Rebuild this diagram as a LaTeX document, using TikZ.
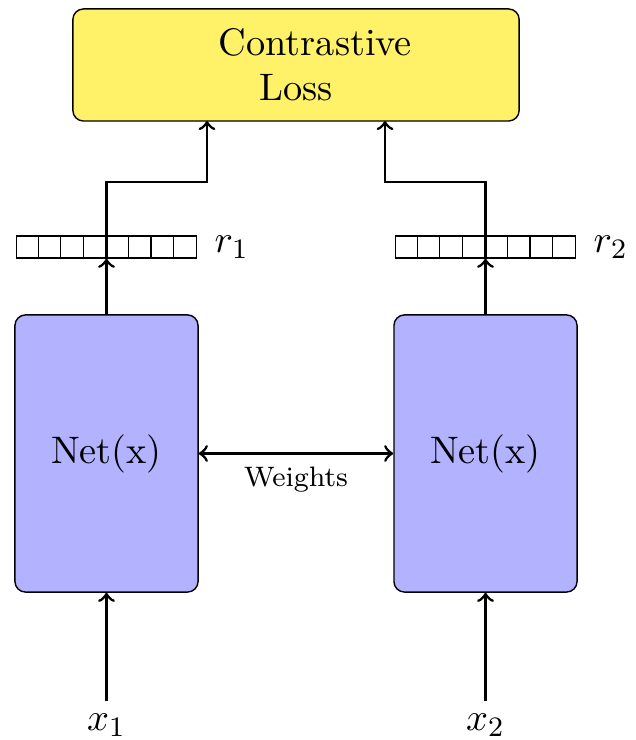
\documentclass[tikz,border=0pt]{standalone}
\usepackage{amsmath}
\usepackage{amssymb}
\usetikzlibrary{arrows,positioning}
\definecolor{lossyellow}{RGB}{255,241,104}
\definecolor{netblue}{RGB}{178,178,255}

\begin{document}
\begin{tikzpicture}[x=0.01cm,y=0.01cm,
		txt/.style={font=\fontsize{10.9}{12.8}\selectfont},
		box/.style={draw,rounded corners=3pt,inner sep=0pt},
		vecbox/.style={draw,thin,minimum width=1.8cm,minimum height=0.22cm,inner sep=0pt},
		conn/.style={->,thick}]
	\useasboundingbox (0,0) rectangle (635,740);
		%%  Loss  %%%%%%%%
		\node[box,fill=lossyellow,minimum width=4.46cm,minimum height=1.12cm,txt,align=center] (loss) at (296,675) {\hspace*{11pt}Contrastive\\Loss};
		\coordinate (inL) at (207,619);
		\coordinate (inR) at (385,619);
		\coordinate (bendL) at (106.5,558);
		\coordinate (bendR) at (485.5,558);
		%%  Nets  %%%%%%%%
		\node[box,fill=netblue,minimum width=1.83cm,minimum height=2.77cm,txt] (netL) at (106.5,286.5) {Net(x)};
		\node[box,fill=netblue,minimum width=1.83cm,minimum height=2.77cm,txt] (netR) at (485.5,286.5) {Net(x)};
		%%  Vectors  %%%%%%%%
		\node[vecbox] (vecL) at (106.5,493) {};
		\node[vecbox] (vecR) at (485.5,493) {};
		\foreach \v in {vecL,vecR}
			\foreach \i in {1,...,7}
				\draw[thin] ([xshift=\i*0.225cm]\v.south west) -- ([xshift=\i*0.225cm]\v.north west);
		\node[txt,right=0.05cm of vecL] (rL) {$r_1$};
		\node[txt,right=0.05cm of vecR] (rR) {$r_2$};
		%%  Inputs  %%%%%%%%
		\node[txt] (xL) at (106.5,15) {$x_1$};
		\node[txt] (xR) at (485.5,15) {$x_2$};
		%%  Arrows  %%%%%%%%
		\draw[conn] (xL.north) -- (netL.south);
		\draw[conn] (xR.north) -- (netR.south);
		\draw[conn] (netL.north) -- (vecL.south);
		\draw[conn] (netR.north) -- (vecR.south);
		\draw[conn] (vecL.south) -- (bendL) -| (inL);
		\draw[conn] (vecR.south) -- (bendR) -| (inR);
		\draw[<->,thick] (netL.east) -- node[below,font=\footnotesize] (w) {Weights} (netR.west);
		%%%%%%%%%%%%%%%
\end{tikzpicture}
\end{document}
